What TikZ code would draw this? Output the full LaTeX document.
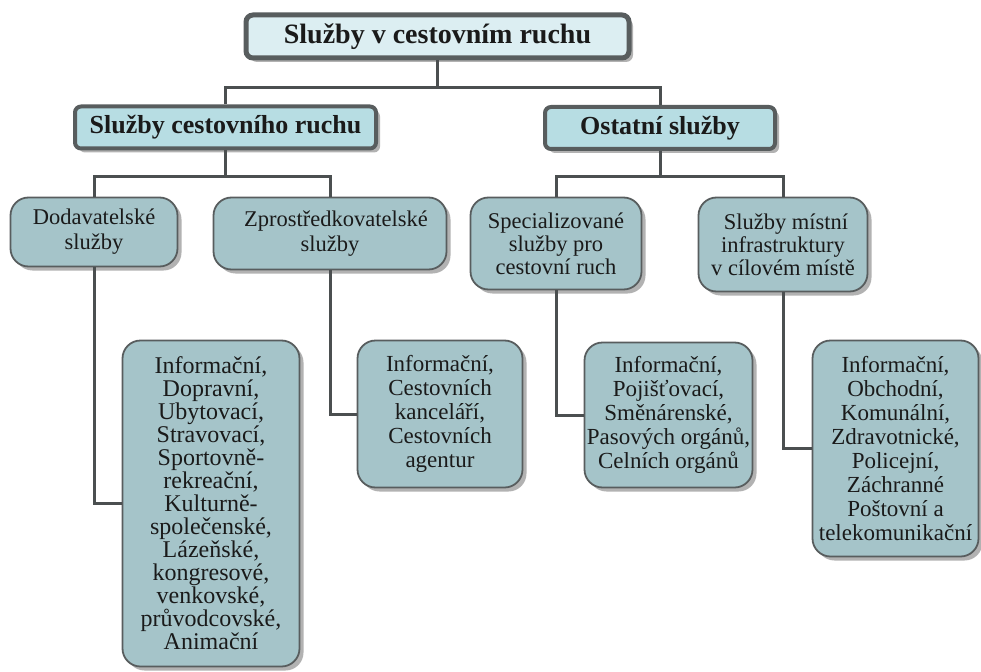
\documentclass[tikz,border=0pt]{standalone}
\usepackage{fontspec}
\setmainfont{Liberation Serif}
\newfontfamily\tnr{Liberation Serif}
\usetikzlibrary{shadows}
\definecolor{topfill}{HTML}{DCEEF2}
\definecolor{midfill}{HTML}{B7DDE3}
\definecolor{lowfill}{HTML}{A5C4C9}
\definecolor{bordc}{HTML}{585D5E}
\definecolor{connc}{HTML}{4B4F50}
\definecolor{txtc}{HTML}{1A1A1A}
\begin{document}
\begin{tikzpicture}[x=1pt,y=-1pt,
  box/.style={draw=bordc, text=txtc, align=center, inner sep=0pt,
    drop shadow={shadow xshift=4pt, shadow yshift=-4pt, fill=black!50, opacity=.6}},
  toplevel/.style={box, fill=topfill, line width=5pt, rounded corners=7pt,
    font=\tnr\bfseries\fontsize{28}{32}\selectfont},
  midlevel/.style={box, fill=midfill, line width=4pt, rounded corners=6pt,
    font=\tnr\bfseries\fontsize{26}{30}\selectfont},
  lowlevel/.style={box, fill=lowfill, line width=1.8pt, rounded corners=18pt,
    font=\tnr\fontsize{23}{24}\selectfont},
  conn/.style={draw=connc, line width=3pt}]
\useasboundingbox (0,0) rectangle (981,671);
\fill[white] (0,0) rectangle (981,671);

% level 1
\node[toplevel, minimum width=383pt, minimum height=43pt] (top) at (437.5,36.5) {Služby v cestovním ruchu};
% level 2
\node[midlevel, minimum width=301pt, minimum height=42pt] (l2a) at (225.5,127.5) {Služby cestovního ruchu};
\node[midlevel, minimum width=230pt, minimum height=42pt] (l2b) at (660,128) {Ostatní služby};
% level 3
\node[lowlevel, minimum width=167pt, minimum height=69pt, font=\tnr\fontsize{22.5}{25}\selectfont] (d) at (94,232) {Dodavatelské\\služby};
\node[lowlevel, minimum width=233pt, minimum height=72pt, font=\tnr\fontsize{22.5}{25}\selectfont] (z) at (330,233.5) {\hspace*{12pt}Zprostředkovatelské\\služby};
\node[lowlevel, minimum width=171pt, minimum height=92pt, font=\tnr\fontsize{22.5}{23}\selectfont] (s) at (556,243.5) {Specializované\\služby pro\\cestovní ruch};
\node[lowlevel, minimum width=169pt, minimum height=94pt, font=\tnr\fontsize{22.5}{23}\selectfont] (m) at (783,244.5) {\hspace*{6pt}Služby místní\\infrastruktury\\v cílovém místě};
% level 4
\node[lowlevel, minimum width=177pt, minimum height=326pt, font=\tnr\fontsize{24}{23}\selectfont] (b1) at (211,503.5) {Informační,\\Dopravní,\\Ubytovací,\\Stravovací,\\Sportovně-\\rekreační,\\Kulturně-\\společenské,\\Lázeňské,\\kongresové,\\venkovské,\\průvodcovské,\\Animační};
\node[lowlevel, minimum width=165pt, minimum height=147pt] (b2) at (440,414) {Informační,\\Cestovních\\kanceláří,\\Cestovních\\agentur};
\node[lowlevel, minimum width=168pt, minimum height=145pt] (b3) at (668.5,415) {Informační,\\Pojišťovací,\\Směnárenské,\\Pasových orgánů,\\Celních orgánů};
\node[lowlevel, minimum width=166pt, minimum height=216pt] (b4) at (895.5,448.5) {Informační,\\Obchodní,\\Komunální,\\Zdravotnické,\\Policejní,\\Záchranné\\Poštovní a\\telekomunikační};

% bars
\coordinate (bar1) at (0,88);
\coordinate (bar2) at (0,176);

% connectors
\draw[conn] (top.south) -- (top.south |- bar1);
\draw[conn] (l2a.north) |- (top.south |- bar1) -| (l2b.north);
\draw[conn] (l2a.south) -- (l2a.south |- bar2);
\draw[conn] (d.north) |- (l2a.south |- bar2) -| (z.north);
\draw[conn] (l2b.south) -- (l2b.south |- bar2);
\draw[conn] (s.north) |- (l2b.south |- bar2) -| (m.north);
\draw[conn] (d.south) |- (b1.west);
\draw[conn] (z.south) |- (b2.west);
\draw[conn] (s.south) |- (b3.west);
\draw[conn] (m.south) |- (b4.west);
\end{tikzpicture}
\end{document}
